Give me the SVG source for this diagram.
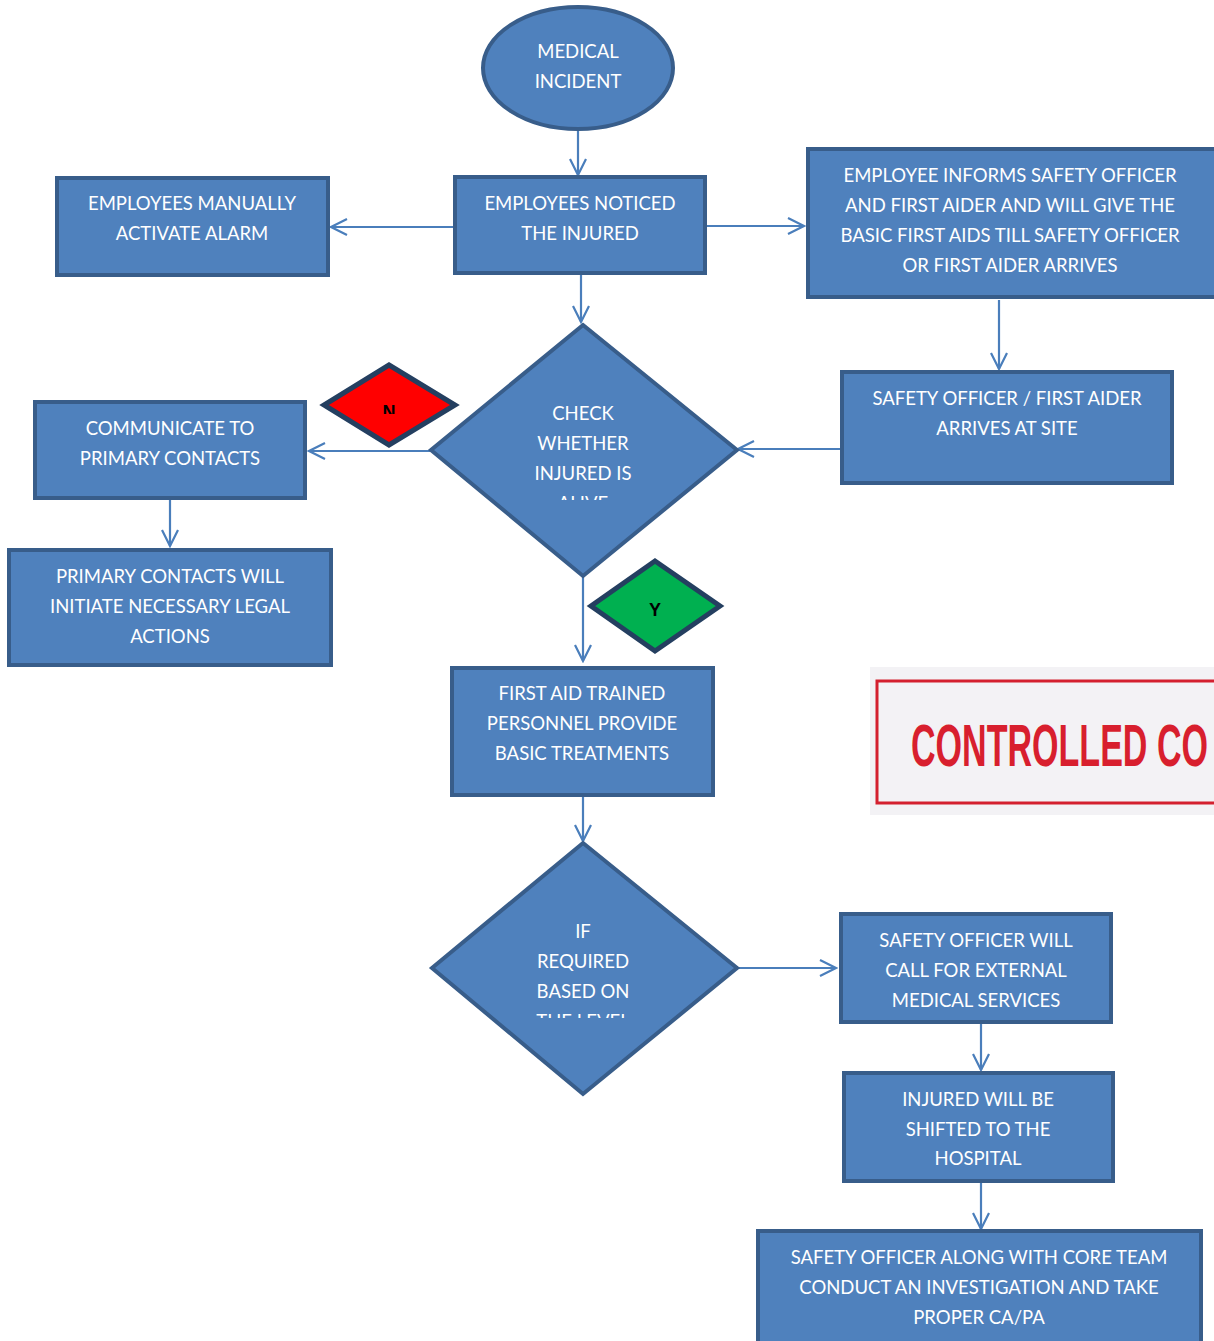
<svg xmlns="http://www.w3.org/2000/svg" width="1214" height="1341" viewBox="0 0 1214 1341">
  <style>
    .box { fill: #4f81bd; stroke: #385d8a; stroke-width: 4; }
    .flag { stroke: #243f60; stroke-width: 5; }
    .lbl { font-family: Lato, "Liberation Sans", sans-serif; font-size: 18.5px; fill: #ffffff; text-anchor: middle; dominant-baseline: central; }
    .yn { font-family: "Liberation Sans", sans-serif; font-size: 18px; font-weight: bold; fill: #000000; text-anchor: middle; }
    .conn { stroke: #4a7ebb; stroke-width: 2.2; fill: none; marker-end: url(#open); }
  </style>
  <defs>
    <marker id="open" viewBox="0 0 20 20" refX="18" refY="10" markerWidth="20" markerHeight="20" markerUnits="userSpaceOnUse" orient="auto">
      <path d="M2,2 L18,10 L2,18" fill="none" stroke="#4a7ebb" stroke-width="2.2"/>
    </marker>
    <clipPath id="clipAlive"><rect x="520" y="480" width="130" height="20"/></clipPath>
    <clipPath id="clipLevel"><rect x="520" y="1000" width="130" height="18"/></clipPath>
    <clipPath id="clipN"><rect x="370" y="395" width="40" height="19"/></clipPath>
  </defs>

  <rect width="1214" height="1341" fill="#ffffff"/>

  <!-- connectors -->
  <g id="connectors">
    <line class="conn" x1="578" y1="131" x2="578" y2="175"/>
    <line class="conn" x1="453" y1="227" x2="331" y2="227"/>
    <line class="conn" x1="707" y1="226" x2="804" y2="226"/>
    <line class="conn" x1="581" y1="275" x2="581" y2="322"/>
    <line class="conn" x1="999" y1="300" x2="999" y2="369"/>
    <line class="conn" x1="840" y1="449" x2="738" y2="449"/>
    <line class="conn" x1="430" y1="451" x2="309" y2="451"/>
    <line class="conn" x1="170" y1="500" x2="170" y2="546"/>
    <line class="conn" x1="583" y1="577" x2="583" y2="661"/>
    <line class="conn" x1="583" y1="797" x2="583" y2="841"/>
    <line class="conn" x1="738" y1="968" x2="836" y2="968"/>
    <line class="conn" x1="981" y1="1024" x2="981" y2="1070"/>
    <line class="conn" x1="981" y1="1183" x2="981" y2="1229"/>
  </g>

  <g id="start">
    <ellipse class="box" cx="578" cy="68" rx="95" ry="61"/>
    <text class="lbl" x="578" y="51">MEDICAL</text>
    <text class="lbl" x="578" y="81">INCIDENT</text>
  </g>

  <g id="noticed">
    <rect class="box" x="455" y="177" width="250" height="96"/>
    <text class="lbl" x="580" y="203">EMPLOYEES NOTICED</text>
    <text class="lbl" x="580" y="233">THE INJURED</text>
  </g>

  <g id="alarm">
    <rect class="box" x="57" y="178" width="271" height="97"/>
    <text class="lbl" x="192" y="203">EMPLOYEES MANUALLY</text>
    <text class="lbl" x="192" y="233">ACTIVATE ALARM</text>
  </g>

  <g id="inform">
    <rect class="box" x="808" y="149" width="410" height="148"/>
    <text class="lbl" x="1010" y="175">EMPLOYEE INFORMS SAFETY OFFICER</text>
    <text class="lbl" x="1010" y="205">AND FIRST AIDER AND WILL GIVE THE</text>
    <text class="lbl" x="1010" y="235">BASIC FIRST AIDS TILL SAFETY OFFICER</text>
    <text class="lbl" x="1010" y="265">OR FIRST AIDER ARRIVES</text>
  </g>

  <g id="arrives">
    <rect class="box" x="842" y="372" width="330" height="111"/>
    <text class="lbl" x="1007" y="398">SAFETY OFFICER / FIRST AIDER</text>
    <text class="lbl" x="1007" y="428">ARRIVES AT SITE</text>
  </g>

  <g id="check-alive">
    <polygon class="box" points="583,325 737,450 583,576 431,450"/>
    <text class="lbl" x="583" y="413">CHECK</text>
    <text class="lbl" x="583" y="443">WHETHER</text>
    <text class="lbl" x="583" y="473">INJURED IS</text>
    <text class="lbl" x="583" y="503" clip-path="url(#clipAlive)">ALIVE</text>
  </g>

  <g id="flag-no">
    <polygon class="flag" fill="#ff0000" points="389,365 455,405 389,445 324,405"/>
    <text class="yn" x="389" y="418" clip-path="url(#clipN)">N</text>
  </g>

  <g id="communicate">
    <rect class="box" x="35" y="402" width="270" height="96"/>
    <text class="lbl" x="170" y="428">COMMUNICATE TO</text>
    <text class="lbl" x="170" y="458">PRIMARY CONTACTS</text>
  </g>

  <g id="legal">
    <rect class="box" x="9" y="550" width="322" height="115"/>
    <text class="lbl" x="170" y="576">PRIMARY CONTACTS WILL</text>
    <text class="lbl" x="170" y="606">INITIATE NECESSARY LEGAL</text>
    <text class="lbl" x="170" y="636">ACTIONS</text>
  </g>

  <g id="flag-yes">
    <polygon class="flag" fill="#00b050" points="655,561 720,606 655,651 591,606"/>
    <text class="yn" x="655" y="616">Y</text>
  </g>

  <g id="first-aid">
    <rect class="box" x="452" y="668" width="261" height="127"/>
    <text class="lbl" x="582" y="693">FIRST AID TRAINED</text>
    <text class="lbl" x="582" y="723">PERSONNEL PROVIDE</text>
    <text class="lbl" x="582" y="753">BASIC TREATMENTS</text>
  </g>

  <g id="if-required">
    <polygon class="box" points="583,843 737,968 583,1094 432,968"/>
    <text class="lbl" x="583" y="931">IF</text>
    <text class="lbl" x="583" y="961">REQUIRED</text>
    <text class="lbl" x="583" y="991">BASED ON</text>
    <text class="lbl" x="583" y="1021" clip-path="url(#clipLevel)">THE LEVEL</text>
  </g>

  <g id="external">
    <rect class="box" x="841" y="914" width="270" height="108"/>
    <text class="lbl" x="976" y="940">SAFETY OFFICER WILL</text>
    <text class="lbl" x="976" y="970">CALL FOR EXTERNAL</text>
    <text class="lbl" x="976" y="1000">MEDICAL SERVICES</text>
  </g>

  <g id="hospital">
    <rect class="box" x="844" y="1073" width="269" height="108"/>
    <text class="lbl" x="978" y="1099">INJURED WILL BE</text>
    <text class="lbl" x="978" y="1129">SHIFTED TO THE</text>
    <text class="lbl" x="978" y="1158">HOSPITAL</text>
  </g>

  <g id="investigation">
    <rect class="box" x="758" y="1231" width="443" height="112"/>
    <text class="lbl" x="979" y="1257">SAFETY OFFICER ALONG WITH CORE TEAM</text>
    <text class="lbl" x="979" y="1287">CONDUCT AN INVESTIGATION AND TAKE</text>
    <text class="lbl" x="979" y="1317">PROPER CA/PA</text>
  </g>

  <!-- document control stamp -->
  <g id="stamp">
    <rect x="870" y="667" width="344" height="148" fill="#f3f2f5"/>
    <path d="M1214,681 H877 V803 H1214" fill="none" stroke="#d4202f" stroke-width="3"/>
    <text x="911" y="766" font-family="'Liberation Sans Narrow', 'Liberation Sans', sans-serif" font-weight="bold" font-size="60" fill="#d81f2e" textLength="297" lengthAdjust="spacingAndGlyphs">CONTROLLED CO</text>
  </g>
</svg>
